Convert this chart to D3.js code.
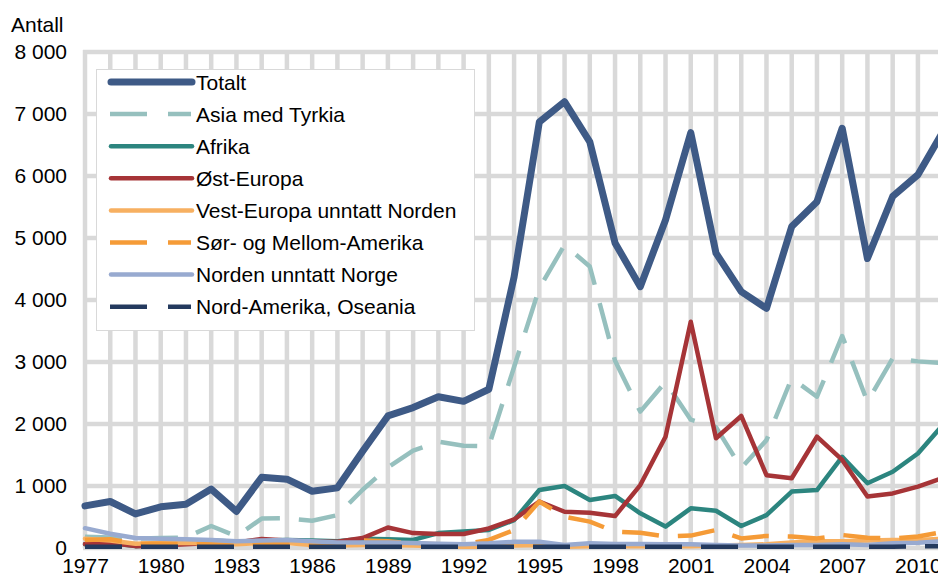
<!DOCTYPE html>
<html>
<head>
<meta charset="utf-8">
<script src="https://cdn.jsdelivr.net/npm/d3@7"></script>
<style>
    body { margin: 0; background: #fff; }
    svg { font-family: "Liberation Sans", Arial, sans-serif; display: block; }
    .tickLabel { font-size: 21px; fill: #000; }
    .legendText { font-size: 21px; fill: #000; }
</style>
</head>
<body>
<div id="chart"></div>
<script>

// years on the x axis, 1977-2011 (the last year runs off the right edge)
var years = d3.range(1977, 2012);

var xTickYears = [1977, 1980, 1983, 1986, 1989, 1992, 1995, 1998, 2001, 2004, 2007, 2010];
var yTicks = [0, 1000, 2000, 3000, 4000, 5000, 6000, 7000, 8000];

var seriesNames = ['Totalt', 'Asia med Tyrkia', 'Afrika', 'Øst-Europa', 'Vest-Europa unntatt Norden',
    'Sør- og Mellom-Amerika', 'Norden unntatt Norge', 'Nord-Amerika, Oseania'];

// values
var totalt = [680, 750, 550, 665, 705, 950, 590, 1140, 1110, 915, 970, 1560, 2130, 2265, 2440, 2365, 2560,
    4370, 6870, 7200, 6550, 4920, 4215, 5290, 6700, 4755, 4135, 3865, 5185, 5585, 6770, 4670, 5670, 6020, 6720];

var asia = [180, 170, 150, 160, 170, 355, 190, 475, 480, 440, 530, 940, 1300, 1570, 1715, 1650, 1640,
    2920, 4190, 4890, 4540, 3020, 2200, 2680, 2070, 1950, 1290, 1740, 2740, 2440, 3420, 2360, 3060, 3010, 2980];

var afrika = [60, 80, 30, 60, 80, 120, 100, 120, 130, 120, 110, 150, 140, 130, 240, 265, 290,
    450, 935, 1000, 775, 840, 560, 345, 640, 600, 355, 530, 910, 935, 1470, 1045, 1230, 1525, 1990];

var ostEuropa = [65, 80, 30, 40, 60, 80, 90, 145, 120, 100, 100, 160, 330, 240, 225, 225, 315,
    460, 750, 585, 570, 515, 1015, 1795, 3650, 1770, 2130, 1175, 1125, 1795, 1420, 830, 880, 990, 1130];

var vestEuropa = [150, 120, 70, 80, 80, 80, 60, 80, 80, 50, 40, 50, 50, 40, 30, 20, 20,
    40, 50, 20, 30, 30, 30, 30, 30, 40, 50, 60, 90, 110, 110, 120, 130, 130, 150];

var sorAmerika = [130, 140, 70, 70, 60, 60, 40, 70, 70, 40, 40, 120, 110, 70, 60, 60, 130,
    290, 750, 505, 425, 265, 245, 185, 200, 290, 155, 195, 185, 155, 210, 165, 155, 185, 260];

var norden = [320, 230, 160, 150, 140, 130, 110, 120, 130, 110, 90, 90, 90, 80, 70, 60, 75,
    100, 100, 50, 75, 65, 65, 60, 60, 50, 40, 40, 50, 50, 60, 50, 75, 85, 110];

var nordAmerika = [20, 20, 20, 20, 20, 20, 20, 20, 20, 20, 20, 20, 20, 20, 20, 20, 20,
    20, 20, 20, 20, 20, 20, 20, 20, 20, 20, 20, 20, 20, 20, 20, 20, 25, 30];


(function () {

    var width = 938, height = 583;

    // plot area, in page pixels
    var plot = { left: 85, top: 52, bottom: 548, step: 25.24 };

    var colours = ['#3e5a86', '#96c0be', '#2c857f', '#a63437', '#f7b061', '#f59b37', '#98aad0', '#243a5e'];
    var widths = [7, 4.5, 4.5, 4.5, 4.5, 4.5, 4.5, 4.5];
    var dashed = [false, true, false, false, false, true, false, true];

    var values = [totalt, asia, afrika, ostEuropa, vestEuropa, sorAmerika, norden, nordAmerika];

    var series = seriesNames.map(function (name, i) {
        return {
            name: name,
            colour: colours[i],
            width: widths[i],
            dashed: dashed[i],
            points: years.map(function (y, j) { return { year: y, value: values[i][j] }; })
        };
    });

    var locale = d3.formatLocale({ decimal: ',', thousands: ' ', grouping: [3], currency: ['', ''] });
    var format = locale.format(',');

    var svg = d3.select('#chart')
        .append('svg')
        .attr('width', width)
        .attr('height', height);

    var xScale = d3.scaleLinear()
        .domain([1977, 2011])
        .range([plot.left, plot.left + 34 * plot.step]);

    var yScale = d3.scaleLinear()
        .domain([0, 8000])
        .range([plot.bottom, plot.top]);

    // grid: thick light grey lines, one per year and one per 1000
    var grid = svg.append('g').attr('class', 'grid');

    grid.selectAll('.vgrid')
        .data(years)
        .enter()
        .append('line')
        .attr('x1', d => xScale(d))
        .attr('x2', d => xScale(d))
        .attr('y1', yScale(8000) - 2)
        .attr('y2', yScale(0))
        .attr('stroke', '#d9d9d9')
        .attr('stroke-width', 4.5);

    grid.selectAll('.hgrid')
        .data(yTicks)
        .enter()
        .append('line')
        .attr('x1', xScale(1977) - 2)
        .attr('x2', width)
        .attr('y1', d => yScale(d))
        .attr('y2', d => yScale(d))
        .attr('stroke', '#d9d9d9')
        .attr('stroke-width', 4.5);

    // axes, labels only
    var yAxis = d3.axisLeft(yScale)
        .tickValues(yTicks)
        .tickFormat(format)
        .tickSize(0)
        .tickPadding(18);

    svg.append('g')
        .attr('class', 'y axis')
        .attr('transform', 'translate(' + plot.left + ',0)')
        .call(yAxis)
        .call(g => g.select('.domain').remove())
        .selectAll('text')
        .attr('class', 'tickLabel')
        .attr('font-size', null)
        .attr('font-family', null);

    var xAxis = d3.axisBottom(xScale)
        .tickValues(xTickYears)
        .tickFormat(d3.format('d'))
        .tickSize(0)
        .tickPadding(10);

    svg.append('g')
        .attr('class', 'x axis')
        .attr('transform', 'translate(0,' + plot.bottom + ')')
        .call(xAxis)
        .call(g => g.select('.domain').remove())
        .selectAll('text')
        .attr('class', 'tickLabel')
        .attr('font-size', null)
        .attr('font-family', null);

    svg.append('text')
        .attr('class', 'tickLabel')
        .attr('x', 11)
        .attr('y', 32)
        .text('Antall');

    // the lines
    var line = d3.line()
        .x(d => xScale(d.year))
        .y(d => yScale(d.value));

    svg.append('g')
        .attr('class', 'lines')
        .selectAll('path')
        .data(series)
        .enter()
        .append('path')
        .attr('d', d => line(d.points))
        .attr('fill', 'none')
        .attr('stroke', d => d.colour)
        .attr('stroke-width', d => d.width)
        .attr('stroke-linejoin', 'round')
        .attr('stroke-linecap', d => d.dashed ? 'butt' : 'round')
        .attr('stroke-dasharray', d => d.dashed ? '37,19' : null);

    // legend box over the top left of the plot
    var legend = svg.append('g').attr('class', 'legend');

    legend.append('rect')
        .attr('x', 96.5)
        .attr('y', 69.5)
        .attr('width', 378)
        .attr('height', 261)
        .attr('fill', '#fff')
        .attr('stroke', '#d9d9d9')
        .attr('stroke-width', 1);

    var rows = legend.selectAll('.row')
        .data(series)
        .enter()
        .append('g')
        .attr('class', 'row')
        .attr('transform', (d, i) => 'translate(0,' + (82 + i * 32.1) + ')');

    rows.append('line')
        .attr('x1', d => d.dashed ? 110 : 111)
        .attr('x2', d => d.dashed ? 191 : 192)
        .attr('y1', 0)
        .attr('y2', 0)
        .attr('stroke', d => d.colour)
        .attr('stroke-width', d => d.width)
        .attr('stroke-linecap', d => d.dashed ? 'butt' : 'round')
        .attr('stroke-dasharray', d => d.dashed ? '37,21' : null);

    rows.append('text')
        .attr('class', 'legendText')
        .attr('x', 196)
        .attr('y', 7.5)
        .text(d => d.name);

})()
</script>
</body>
</html>
